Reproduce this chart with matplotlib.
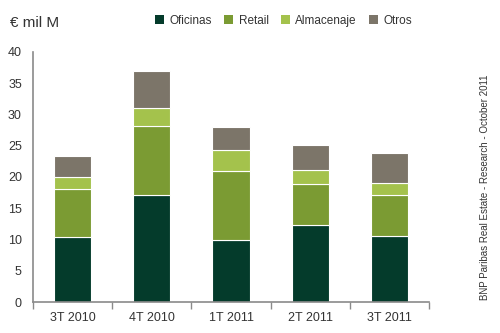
import numpy as np
import matplotlib
matplotlib.use('Agg')
import matplotlib.pyplot as plt
from matplotlib.patches import Patch

plt.rcParams['font.family'] = ['Liberation Sans', 'DejaVu Sans']

trimestres = ['3T 2010', '4T 2010', '1T 2011', '2T 2011', '3T 2011']
oficinas = [10.4, 17.1, 10.0, 12.3, 10.5]
retail = [7.6, 11.0, 11.0, 6.5, 6.6]
almacenaje = [2.0, 3.0, 3.3, 2.3, 2.0]
otros = [3.4, 5.8, 3.7, 4.0, 4.7]

series = [oficinas, retail, almacenaje, otros]
nombres = ['Oficinas', 'Retail', 'Almacenaje', 'Otros']
colores = ['#043b2b', '#7b9b33', '#a4c24c', '#7c7569']
texto = '#333333'
gris = '#8a8a8a'

fig = plt.figure(figsize=(5, 3.33), dpi=100)
ax = fig.add_axes([0.066, 0.093, 0.792, 0.751])

x = np.arange(len(trimestres))
base = np.zeros(len(trimestres))
for vals, col in zip(series, colores):
	ax.bar(x, vals, bottom=base, width=0.47, color=col,
		edgecolor='white', linewidth=0.8)
	base += np.array(vals)

ax.set_xlim(-0.5, len(trimestres) - 0.5)
ax.set_ylim(0, 40)
ax.set_yticks(range(0, 41, 5))
ax.set_xticks(x)
ax.set_xticklabels(trimestres)
ax.set_xticks(np.arange(-0.5, len(trimestres)), minor=True)
ax.tick_params(axis='x', which='major', length=0, pad=7, labelsize=9, colors=texto)
ax.tick_params(axis='x', which='minor', length=5, color=gris, width=1)
ax.tick_params(axis='y', length=0, pad=8, labelsize=9, colors=texto)
for s in ['top', 'right']:
	ax.spines[s].set_visible(False)
for s in ['left', 'bottom']:
	ax.spines[s].set_color(gris)
	ax.spines[s].set_linewidth(1.2)

fig.text(0.02, 0.93, '€ mil M', fontsize=11, color=texto, va='center', ha='left')

handles = [Patch(facecolor=c, edgecolor='none') for c in colores]
fig.legend(handles, nombres, loc='center', bbox_to_anchor=(0.567, 0.937), ncol=4,
	frameon=False, fontsize=8.5, handlelength=0.8, handleheight=0.8,
	handletextpad=0.45, columnspacing=1.0, labelcolor=texto)

fig.text(0.97, 0.1, 'BNP Paribas Real Estate - Research - October 2011',
	rotation=90, fontsize=7, color=texto, ha='center', va='bottom',
	family=['Liberation Sans Narrow', 'Liberation Sans'])

fig.savefig('out.png', dpi=100)
